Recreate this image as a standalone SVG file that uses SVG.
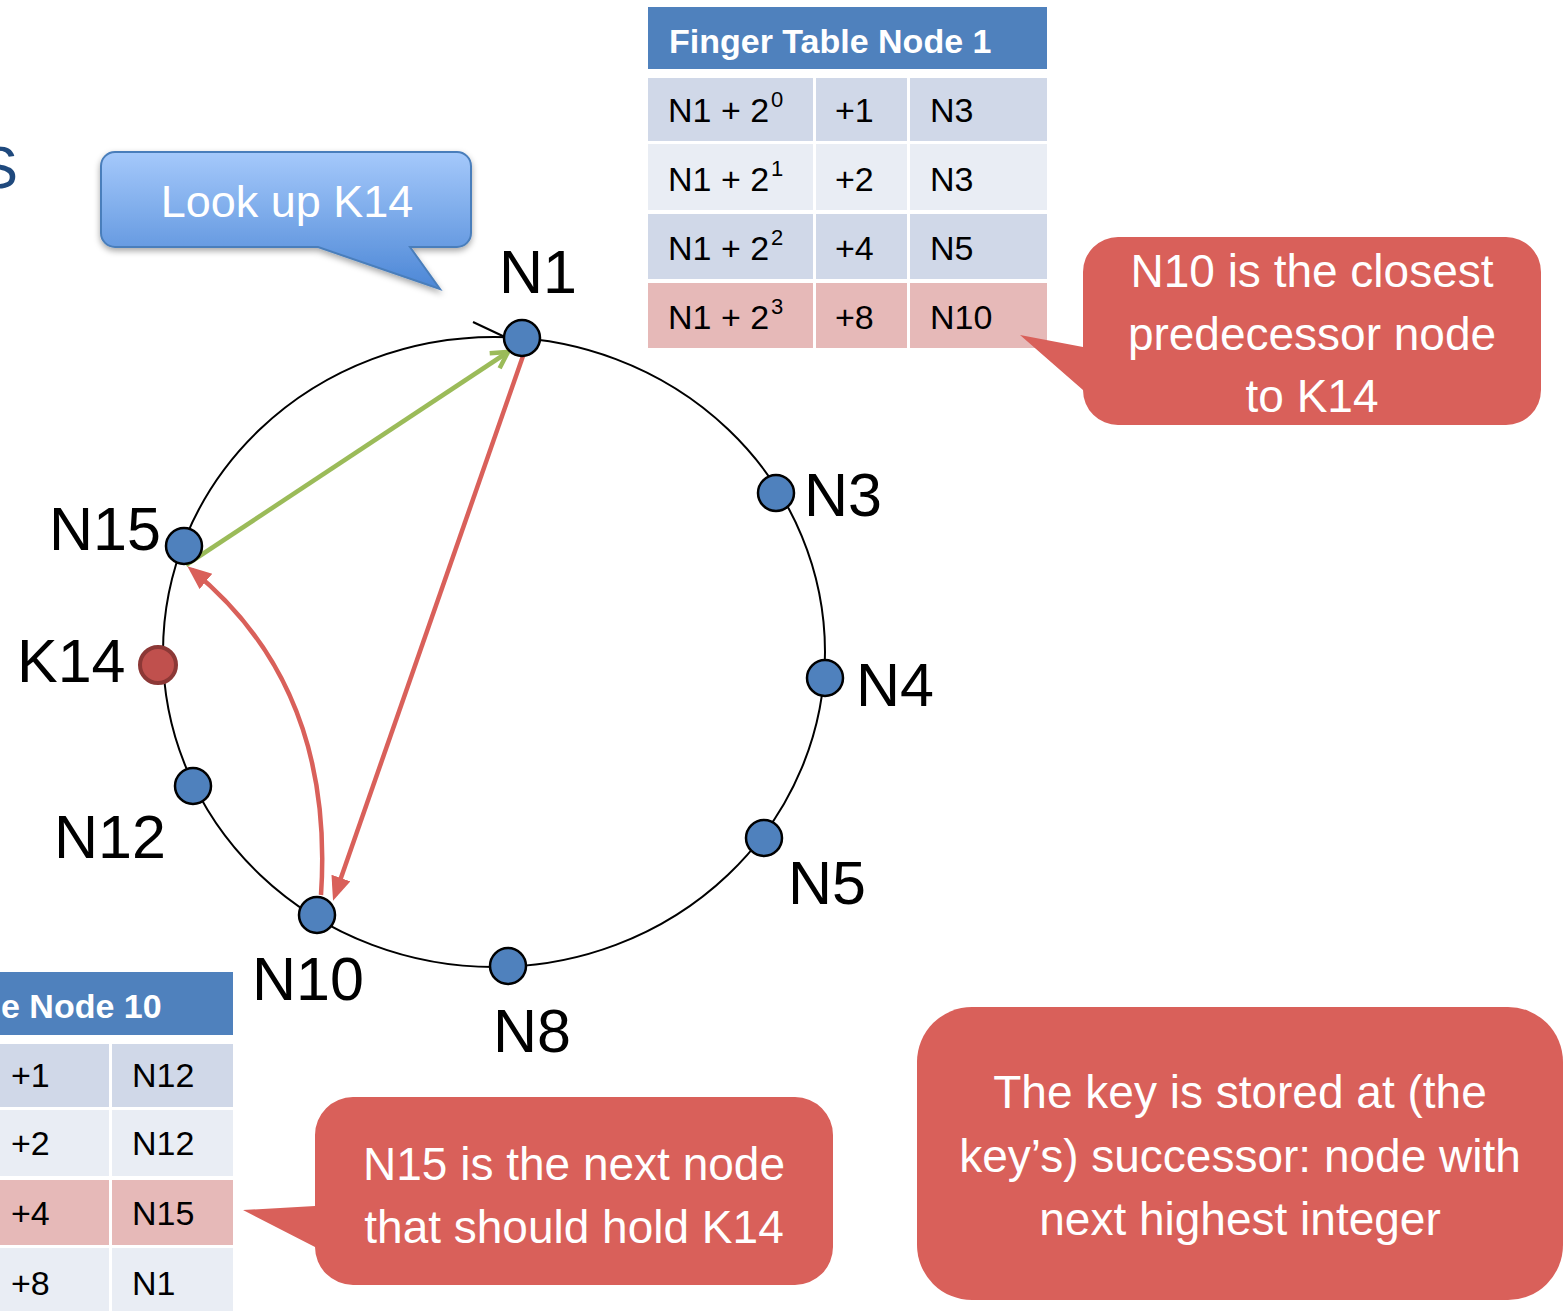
<svg xmlns="http://www.w3.org/2000/svg" width="1566" height="1311" viewBox="0 0 1566 1311">
  <style>
    .lbl { font-family: "Liberation Sans", Arial, sans-serif; font-size: 61px; fill: #000; }
    .cell { font-family: "Liberation Sans", Arial, sans-serif; font-size: 34px; fill: #000; }
    .sup { font-family: "Liberation Sans", Arial, sans-serif; font-size: 22px; fill: #000; }
    .hdr { font-family: "Liberation Sans", Arial, sans-serif; font-size: 34px; font-weight: bold; fill: #fff; }
    .note { font-family: "Liberation Sans", Arial, sans-serif; font-size: 46px; fill: #fff; text-anchor: middle; }
    .node { fill: #4F81BD; stroke: #000; stroke-width: 2.5; }
    .bubble { fill: #D9605A; }
    .rA { fill: #D0D8E8; }
    .rB { fill: #E9EDF4; }
    .rH { fill: #E6B9B8; }
    .th { fill: #4F81BD; }
  </style>
  <defs>
    <linearGradient id="blueFill" x1="0" y1="152" x2="0" y2="289" gradientUnits="userSpaceOnUse">
      <stop offset="0" stop-color="#A5C9FB"/>
      <stop offset="1" stop-color="#4C87D6"/>
    </linearGradient>
    <filter id="shadow" x="-10%" y="-10%" width="130%" height="140%">
      <feDropShadow dx="0" dy="3" stdDeviation="3" flood-color="#000" flood-opacity="0.35"/>
    </filter>
    <marker id="redHead" markerUnits="userSpaceOnUse" markerWidth="26" markerHeight="22" refX="18" refY="10" orient="auto">
      <path d="M0,0 L24,10 L0,20 Z" fill="#D9605A"/>
    </marker>
    <marker id="greenHead" markerUnits="userSpaceOnUse" markerWidth="24" markerHeight="24" refX="18" refY="11" orient="auto">
      <path d="M2,2 L18,11 L2,20" fill="none" stroke="#9BBB59" stroke-width="4.5"/>
    </marker>
  </defs>

  <rect width="1566" height="1311" fill="#fff"/>

  <!-- trailing letter of the slide title, running off the left edge -->
  <text x="-22" y="188" font-family="Liberation Sans, Arial, sans-serif" font-size="60" fill="#1F497D">S</text>

  <!-- identifier ring -->
  <g id="ring">
    <ellipse cx="494" cy="652" rx="331" ry="315" fill="none" stroke="#000" stroke-width="2"/>
    <line x1="473" y1="322" x2="507" y2="338" stroke="#000" stroke-width="2"/>
  </g>

  <!-- lookup hops -->
  <g id="connectors" fill="none" stroke-width="4.5">
    <line x1="186" y1="565" x2="508" y2="352" stroke="#9BBB59" marker-end="url(#greenHead)"/>
    <line x1="523" y1="356" x2="335" y2="895" stroke="#D9605A" marker-end="url(#redHead)"/>
    <path d="M321,895 C330,760 290,650 192,570" stroke="#D9605A" marker-end="url(#redHead)"/>
  </g>

  <!-- ring nodes -->
  <g id="n1"><circle class="node" cx="522" cy="338" r="18"/><text class="lbl" x="499" y="293">N1</text></g>
  <g id="n3"><circle class="node" cx="776" cy="493" r="18"/><text class="lbl" x="804" y="516">N3</text></g>
  <g id="n4"><circle class="node" cx="825" cy="678" r="18"/><text class="lbl" x="856" y="706">N4</text></g>
  <g id="n5"><circle class="node" cx="764" cy="838" r="18"/><text class="lbl" x="788" y="904">N5</text></g>
  <g id="n8"><circle class="node" cx="508" cy="966" r="18"/><text class="lbl" x="493" y="1052">N8</text></g>
  <g id="n10"><circle class="node" cx="317" cy="915" r="18"/><text class="lbl" x="252" y="1000">N10</text></g>
  <g id="n12"><circle class="node" cx="193" cy="786" r="18"/><text class="lbl" x="54" y="858">N12</text></g>
  <g id="k14"><circle cx="158" cy="665" r="18" fill="#C0504D" stroke="#8C3836" stroke-width="4"/><text class="lbl" x="17" y="682">K14</text></g>
  <g id="n15"><circle class="node" cx="184" cy="546" r="18"/><text class="lbl" x="49" y="550">N15</text></g>

  <!-- lookup request callout -->
  <g id="lookup">
    <path d="M115,152 H457 A14,14 0 0 1 471,166 V233 A14,14 0 0 1 457,247 H410 L440,289 L318,247 H115 A14,14 0 0 1 101,233 V166 A14,14 0 0 1 115,152 Z" fill="url(#blueFill)" stroke="#4A7EBB" stroke-width="2" filter="url(#shadow)"/>
    <text x="287" y="217" font-family="Liberation Sans, Arial, sans-serif" font-size="45" fill="#fff" text-anchor="middle">Look up K14</text>
  </g>

  <!-- finger table of node 1 -->
  <g id="table-n1">
    <rect class="th" x="648" y="7" width="399" height="62"/>
    <text class="hdr" x="669" y="53">Finger Table Node 1</text>
    <rect class="rA" x="648" y="78" width="165" height="63"/>
    <rect class="rA" x="816" y="78" width="91" height="63"/>
    <rect class="rA" x="910" y="78" width="137" height="63"/>
    <rect class="rB" x="648" y="144" width="165" height="66"/>
    <rect class="rB" x="816" y="144" width="91" height="66"/>
    <rect class="rB" x="910" y="144" width="137" height="66"/>
    <rect class="rA" x="648" y="214" width="165" height="65"/>
    <rect class="rA" x="816" y="214" width="91" height="65"/>
    <rect class="rA" x="910" y="214" width="137" height="65"/>
    <rect class="rH" x="648" y="283" width="165" height="65"/>
    <rect class="rH" x="816" y="283" width="91" height="65"/>
    <rect class="rH" x="910" y="283" width="137" height="65"/>
    <text class="cell" x="668" y="122">N1 + 2</text><text class="sup" x="771" y="107">0</text>
    <text class="cell" x="835" y="122">+1</text><text class="cell" x="930" y="122">N3</text>
    <text class="cell" x="668" y="191">N1 + 2</text><text class="sup" x="771" y="176">1</text>
    <text class="cell" x="835" y="191">+2</text><text class="cell" x="930" y="191">N3</text>
    <text class="cell" x="668" y="260">N1 + 2</text><text class="sup" x="771" y="245">2</text>
    <text class="cell" x="835" y="260">+4</text><text class="cell" x="930" y="260">N5</text>
    <text class="cell" x="668" y="329">N1 + 2</text><text class="sup" x="771" y="314">3</text>
    <text class="cell" x="835" y="329">+8</text><text class="cell" x="930" y="329">N10</text>
  </g>

  <!-- finger table of node 10 -->
  <g id="table-n10">
    <rect class="th" x="0" y="972" width="233" height="63"/>
    <text class="hdr" x="1" y="1018">e Node 10</text>
    <rect class="rA" x="0" y="1044" width="109" height="63"/>
    <rect class="rA" x="112" y="1044" width="121" height="63"/>
    <rect class="rB" x="0" y="1110" width="109" height="66"/>
    <rect class="rB" x="112" y="1110" width="121" height="66"/>
    <rect class="rH" x="0" y="1180" width="109" height="65"/>
    <rect class="rH" x="112" y="1180" width="121" height="65"/>
    <rect class="rB" x="0" y="1248" width="109" height="63"/>
    <rect class="rB" x="112" y="1248" width="121" height="63"/>
    <text class="cell" x="11" y="1087">+1</text><text class="cell" x="132" y="1087">N12</text>
    <text class="cell" x="11" y="1155">+2</text><text class="cell" x="132" y="1155">N12</text>
    <text class="cell" x="11" y="1225">+4</text><text class="cell" x="132" y="1225">N15</text>
    <text class="cell" x="11" y="1295">+8</text><text class="cell" x="132" y="1295">N1</text>
  </g>

  <!-- explanatory callouts -->
  <g id="note-n10">
    <path class="bubble" d="M1118,237 H1506 A35,35 0 0 1 1541,272 V390 A35,35 0 0 1 1506,425 H1118 A35,35 0 0 1 1083,390 L1020,335 L1083,347 V272 A35,35 0 0 1 1118,237 Z"/>
    <text class="note" x="1312" y="287">N10 is the closest</text>
    <text class="note" x="1312" y="350">predecessor node</text>
    <text class="note" x="1312" y="412">to K14</text>
  </g>
  <g id="note-n15">
    <path class="bubble" d="M353,1097 H795 A38,38 0 0 1 833,1135 V1247 A38,38 0 0 1 795,1285 H353 A38,38 0 0 1 315,1247 L243,1210 L315,1206 V1135 A38,38 0 0 1 353,1097 Z"/>
    <text class="note" x="574" y="1180">N15 is the next node</text>
    <text class="note" x="574" y="1243">that should hold K14</text>
  </g>
  <g id="note-successor">
    <rect class="bubble" x="917" y="1007" width="646" height="293" rx="55"/>
    <text class="note" x="1240" y="1108">The key is stored at (the</text>
    <text class="note" x="1240" y="1172">key’s) successor: node with</text>
    <text class="note" x="1240" y="1235">next highest integer</text>
  </g>
</svg>
